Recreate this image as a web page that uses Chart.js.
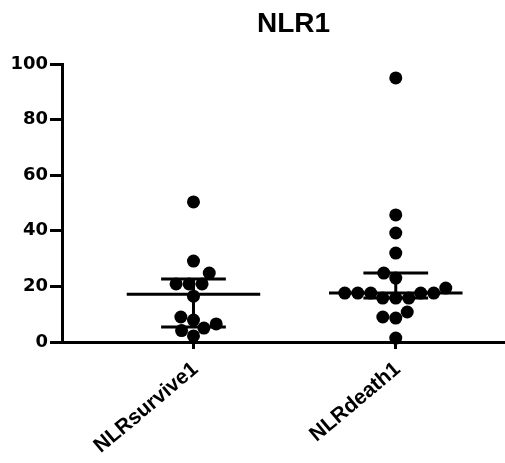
<!DOCTYPE html>
<html>
<head>
<meta charset="utf-8">
<script src="https://cdn.jsdelivr.net/npm/chart.js@4"></script>
<style>
  body { margin: 0; background: #fff; }
  #wrap { width: 505px; height: 463px; }
</style>
</head>
<body>
<div id="wrap"><canvas id="chartNLR" width="505" height="463"></canvas></div>
<script>
const categories = ['NLRsurvive1', 'NLRdeath1'];
const survive = [50.4, 29.1, 24.8, 20.9, 20.9, 20.9, 16.5, 9.0, 7.9, 6.5, 5.0, 4.1, 2.2];
const death = [95.0, 45.7, 39.2, 32.0, 24.8, 23.0, 19.4, 17.6, 17.6, 17.6, 17.6, 17.6, 15.8, 15.8, 15.8, 10.8, 9.0, 8.6, 1.4];
const medians = [17.2, 17.6];
const lowerQ = [5.4, 15.8];
const upperQ = [22.7, 24.8];
const yTicks = [0, 20, 40, 60, 80, 100];
const titulo = 'NLR1';

const groups = [survive, death];
const DOT_R = 6.5;
const MEDIAN_HALF = 0.33;  // en unidades de categoria
const CAP_HALF = 0.16;

// puntos iniciales en el centro de cada categoria
function puntosCentro() {
    const pts = [];
    groups.forEach((vals, i) => vals.forEach(v => pts.push({ x: i + 1, y: v })));
    return pts;
}

// mediana + rango intercuartil, separados con y: null
function segmentos() {
    const d = [];
    const brk = c => d.push({ x: c, y: null });
    groups.forEach((vals, i) => {
        const c = i + 1;
        d.push({ x: c - MEDIAN_HALF, y: medians[i] }, { x: c + MEDIAN_HALF, y: medians[i] }); brk(c);
        d.push({ x: c - CAP_HALF, y: upperQ[i] }, { x: c + CAP_HALF, y: upperQ[i] }); brk(c);
        d.push({ x: c - CAP_HALF, y: lowerQ[i] }, { x: c + CAP_HALF, y: lowerQ[i] }); brk(c);
        d.push({ x: c, y: lowerQ[i] }, { x: c, y: upperQ[i] }); brk(c);
    });
    return d;
}

// titulo dibujado a mano (el de Chart.js se centra en todo el canvas)
const tituloPlugin = {
    id: 'tituloNLR',
    afterDraw(chart) {
        const ctx = chart.ctx;
        ctx.save();
        ctx.font = 'bold 28px "Liberation Sans", Arial, sans-serif';
        ctx.fillStyle = '#000';
        ctx.textAlign = 'center';
        ctx.textBaseline = 'alphabetic';
        ctx.fillText(titulo, (chart.chartArea.left + chart.chartArea.right) / 2 + 10, 31.5);
        ctx.restore();
    }
};

const chartNLR = new Chart(document.getElementById('chartNLR').getContext('2d'), {
    data: {
        datasets: [
            {
                type: 'scatter',
                data: puntosCentro(),
                backgroundColor: '#000',
                borderColor: '#000',
                pointRadius: DOT_R,
                pointHoverRadius: DOT_R,
                borderWidth: 0,
                clip: false
            },
            {
                type: 'line',
                data: segmentos(),
                borderColor: '#000',
                borderWidth: 3,
                pointRadius: 0,
                spanGaps: false,
                fill: false,
                tension: 0,
                clip: false
            }
        ]
    },
    plugins: [tituloPlugin],
    options: {
        responsive: false,
        animation: false,
        events: [],
        layout: { autoPadding: false, padding: { top: 64, right: 0, left: 0, bottom: 0 } },
        plugins: {
            legend: { display: false },
            tooltip: { enabled: false },
            title: { display: false }
        },
        scales: {
            x: {
                type: 'linear',
                min: 0.35,
                max: 2.54,
                afterBuildTicks: axis => { axis.ticks = [{ value: 1 }, { value: 2 }]; },
                afterFit: axis => { axis.height = 121; axis.paddingRight = 0; axis.paddingLeft = 0; },
                ticks: {
                    color: '#000',
                    font: { family: 'Liberation Sans', size: 21, weight: 'bold' },
                    minRotation: 40,
                    maxRotation: 40,
                    padding: 8,
                    labelOffset: 2,
                    callback: v => categories[v - 1]
                },
                grid: { drawOnChartArea: false, drawTicks: true, tickLength: 7, color: '#000', lineWidth: 3 },
                border: { color: '#000', width: 3 }
            },
            y: {
                min: 0,
                max: 100,
                afterBuildTicks: axis => { axis.ticks = yTicks.map(v => ({ value: v })); },
                afterFit: axis => { axis.width = 62; axis.paddingTop = 0; },
                ticks: { color: '#000', font: { family: 'DejaVu Sans', size: 18, weight: 'bold' }, padding: 2 },
                grid: { drawOnChartArea: false, drawTicks: true, tickLength: 12, color: '#000', lineWidth: 3 },
                border: { color: '#000', width: 3 }
            }
        }
    }
});

// distribucion tipo beeswarm calculada en pixeles con las escalas del grafico
function distribuirPuntos() {
    const sx = chartNLR.scales.x, sy = chartNLR.scales.y;
    const D = DOT_R * 2;
    const pts = [];
    groups.forEach((vals, i) => {
        const cx = sx.getPixelForValue(i + 1);
        const colocados = [];
        vals.slice().sort((a, b) => a - b).forEach(v => {
            const py = sy.getPixelForValue(v);
            const cand = [0];
            colocados.forEach(p => {
                const dy = Math.abs(p.y - py);
                if (dy < D) {
                    const dx = Math.sqrt(D * D - dy * dy);
                    cand.push(p.x + dx, p.x - dx);
                }
            });
            cand.sort((a, b) => Math.abs(a) - Math.abs(b) || a - b);
            const libre = cand.find(c => colocados.every(p => Math.hypot(p.x - c, p.y - py) >= D - 0.01));
            colocados.push({ x: libre, y: py });
            pts.push({ x: sx.getValueForPixel(cx + libre), y: v });
        });
    });
    chartNLR.data.datasets[0].data = pts;
    chartNLR.update('none');
}
distribuirPuntos();
</script>
</body>
</html>
